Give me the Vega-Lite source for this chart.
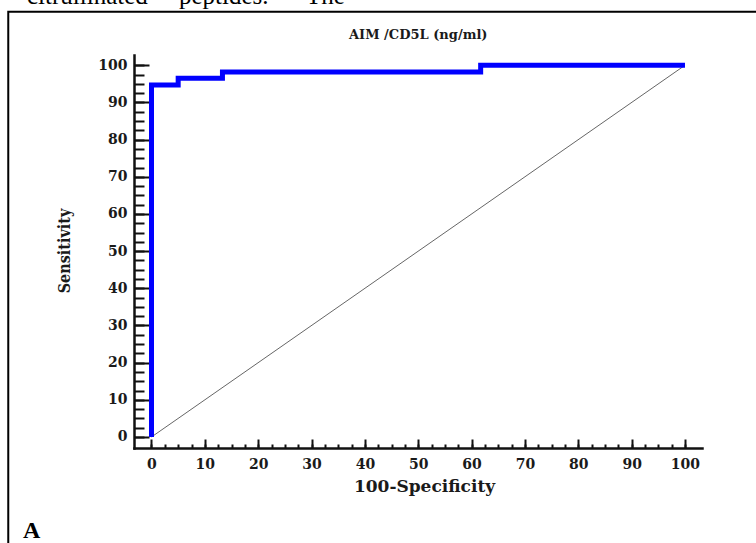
{
  "$schema": "https://vega.github.io/schema/vega-lite/v6.json",
  "width": 568,
  "height": 393,
  "autosize": {"type": "none"},
  "padding": {"left": 134, "top": 55, "right": 54, "bottom": 95},
  "background": "white",
  "config": {"view": {"stroke": null}},
  "datasets": {
    "roc": [
      {"i": 1, "fpr": 0, "sens": 0},
      {"i": 2, "fpr": 0, "sens": 94.7},
      {"i": 3, "fpr": 5, "sens": 94.7},
      {"i": 4, "fpr": 5, "sens": 96.5},
      {"i": 5, "fpr": 13.3, "sens": 96.5},
      {"i": 6, "fpr": 13.3, "sens": 98.2},
      {"i": 7, "fpr": 61.7, "sens": 98.2},
      {"i": 8, "fpr": 61.7, "sens": 100},
      {"i": 9, "fpr": 100, "sens": 100}
    ],
    "diag": [
      {"fpr": 0, "sens": 0},
      {"fpr": 100, "sens": 100}
    ],
    "one": [{"k": 1}]
  },
  "resolve": {"axis": {"x": "independent", "y": "independent"}},
  "layer": [
    {
      "data": {"name": "diag"},
      "mark": {"type": "line", "color": "#666666", "strokeWidth": 1},
      "encoding": {
        "x": {
          "field": "fpr", "type": "quantitative",
          "scale": {"domain": [-3.28, 103.19], "nice": false, "zero": false},
          "axis": {
            "orient": "bottom", "values": [0,2.5,5,7.5,10,12.5,15,17.5,20,22.5,25,27.5,30,32.5,35,37.5,40,42.5,45,47.5,50,52.5,55,57.5,60,62.5,65,67.5,70,72.5,75,77.5,80,82.5,85,87.5,90,92.5,95,97.5,100],
            "labels": false, "domain": false, "grid": false, "title": null,
            "ticks": true, "tickSize": -4, "tickWidth": 2, "tickColor": "#111111"
          }
        },
        "y": {
          "field": "sens", "type": "quantitative",
          "scale": {"domain": [-2.96, 102.77], "nice": false, "zero": false},
          "axis": {
            "orient": "left", "values": [0,2.5,5,7.5,10,12.5,15,17.5,20,22.5,25,27.5,30,32.5,35,37.5,40,42.5,45,47.5,50,52.5,55,57.5,60,62.5,65,67.5,70,72.5,75,77.5,80,82.5,85,87.5,90,92.5,95,97.5,100],
            "labels": false, "domain": false, "grid": false, "title": null,
            "ticks": true, "tickSize": -10, "tickWidth": 2, "tickColor": "#111111"
          }
        }
      }
    },
    {
      "data": {"name": "roc"},
      "mark": {"type": "line", "color": "#0000ff", "strokeWidth": 5, "strokeJoin": "miter", "strokeCap": "butt"},
      "encoding": {
        "order": {"field": "i", "type": "quantitative"},
        "x": {
          "field": "fpr", "type": "quantitative",
          "scale": {"domain": [-3.28, 103.19], "nice": false, "zero": false},
          "axis": {
            "orient": "bottom", "values": [0,10,20,30,40,50,60,70,80,90,100],
            "grid": false, "domain": true, "domainColor": "#111111", "domainWidth": 2.5, "domainCap": "square",
            "ticks": true, "tickSize": -9, "tickWidth": 2, "tickColor": "#111111",
            "labelFont": "DejaVu Serif", "labelFontWeight": "bold", "labelFontSize": 14, "labelColor": "#1a1a1a",
            "labelPadding": 18, "labelFlush": false, "labelOverlap": false,
            "title": "100-Specificity", "titleFont": "DejaVu Serif", "titleFontWeight": "bold", "titleFontSize": 17,
            "titleColor": "#1a1a1a", "titleX": 290, "titleY": 43, "titleBaseline": "alphabetic", "titleAlign": "center"
          }
        },
        "y": {
          "field": "sens", "type": "quantitative",
          "scale": {"domain": [-2.96, 102.77], "nice": false, "zero": false},
          "axis": {
            "orient": "left", "values": [0,10,20,30,40,50,60,70,80,90,100],
            "grid": false, "domain": true, "domainColor": "#111111", "domainWidth": 2.5, "domainCap": "square",
            "ticks": true, "tickSize": -15, "tickWidth": 2, "tickColor": "#111111",
            "labelFont": "DejaVu Serif", "labelFontWeight": "bold", "labelFontSize": 14, "labelColor": "#1a1a1a",
            "labelPadding": 22, "labelFlush": false, "labelOverlap": false,
            "title": "Sensitivity", "titleFont": "DejaVu Serif Condensed, Liberation Serif", "titleFontWeight": "bold", "titleFontSize": 16,
            "titleColor": "#1a1a1a", "titleX": -65, "titleY": 195.5, "titleAngle": -90, "titleBaseline": "alphabetic", "titleAlign": "center"
          }
        }
      }
    },
    {
      "data": {"name": "one"},
      "mark": {"type": "rect", "fill": null, "fillOpacity": 0, "stroke": "#000000", "strokeWidth": 2, "clip": false},
      "encoding": {
        "x": {"datum": -26.85, "type": "quantitative", "scale": {"domain": [-3.28, 103.19], "nice": false, "zero": false}, "axis": null},
        "x2": {"datum": 130},
        "y": {"datum": 114.42, "type": "quantitative", "scale": {"domain": [-2.96, 102.77], "nice": false, "zero": false}, "axis": null},
        "y2": {"datum": -40}
      }
    },
    {
      "data": {"name": "one"},
      "mark": {"type": "text", "text": "AIM /CD5L (ng/ml)", "font": "DejaVu Serif", "fontWeight": "bold", "fontSize": 13, "color": "#1a1a1a", "align": "center", "baseline": "alphabetic", "clip": false},
      "encoding": {
        "x": {"datum": 50, "type": "quantitative", "scale": {"domain": [-3.28, 103.19], "nice": false, "zero": false}, "axis": null},
        "y": {"datum": 107.07, "type": "quantitative", "scale": {"domain": [-2.96, 102.77], "nice": false, "zero": false}, "axis": null}
      }
    },
    {
      "data": {"name": "one"},
      "mark": {"type": "text", "text": "A", "font": "Liberation Serif", "fontWeight": "bold", "fontSize": 24, "color": "#000000", "align": "left", "baseline": "alphabetic", "clip": false},
      "encoding": {
        "x": {"datum": -24.1, "type": "quantitative", "scale": {"domain": [-3.28, 103.19], "nice": false, "zero": false}, "axis": null},
        "y": {"datum": -27.2, "type": "quantitative", "scale": {"domain": [-2.96, 102.77], "nice": false, "zero": false}, "axis": null}
      }
    },
    {
      "data": {"name": "one"},
      "mark": {"type": "text", "text": "citrullinated\u00a0\u00a0\u00a0\u00a0\u00a0peptides.\u00a0\u00a0\u00a0\u00a0\u00a0\u00a0The", "font": "Liberation Serif", "fontSize": 25, "color": "#000000", "align": "left", "baseline": "alphabetic", "clip": false},
      "encoding": {
        "x": {"datum": -23.34, "type": "quantitative", "scale": {"domain": [-3.28, 103.19], "nice": false, "zero": false}, "axis": null},
        "y": {"datum": 116.49, "type": "quantitative", "scale": {"domain": [-2.96, 102.77], "nice": false, "zero": false}, "axis": null}
      }
    }
  ]
}
